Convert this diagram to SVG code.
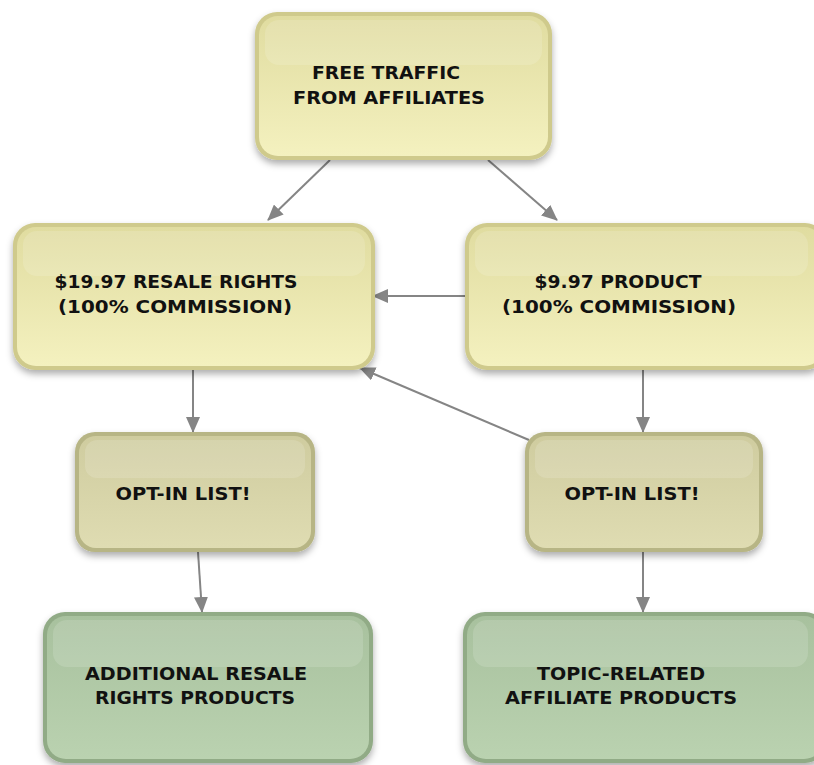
<svg xmlns="http://www.w3.org/2000/svg" width="814" height="765" viewBox="0 0 814 765">
<style>
  .t { font-family: "DejaVu Sans", "Liberation Sans", sans-serif; font-weight: bold; font-size: 17px; fill: #111; text-anchor: middle; }
  .edge { stroke: #858585; stroke-width: 2; fill: none; marker-end: url(#ah); }
  .hl { fill: #ffffff; opacity: 0.14; }
</style>
<defs>
  <marker id="ah" viewBox="0 0 16 14" refX="15" refY="7" markerWidth="16" markerHeight="14" markerUnits="userSpaceOnUse" orient="auto">
    <path d="M0,0 L16,7 L0,14 z" fill="#858585"/>
  </marker>
  <linearGradient id="gy" x1="0" y1="0" x2="0" y2="1">
    <stop offset="0" stop-color="#e0dca0"/>
    <stop offset="1" stop-color="#f4f1bf"/>
  </linearGradient>
  <linearGradient id="go" x1="0" y1="0" x2="0" y2="1">
    <stop offset="0" stop-color="#cfcc9f"/>
    <stop offset="1" stop-color="#dfdcb2"/>
  </linearGradient>
  <linearGradient id="gg" x1="0" y1="0" x2="0" y2="1">
    <stop offset="0" stop-color="#a8c19e"/>
    <stop offset="1" stop-color="#bad2b0"/>
  </linearGradient>
  <filter id="sh" x="-10%" y="-10%" width="120%" height="130%">
    <feDropShadow dx="0" dy="4" stdDeviation="3.5" flood-color="#000" flood-opacity="0.32"/>
  </filter>
</defs>

<g id="connectors">
  <line class="edge" x1="330" y1="160" x2="268" y2="220"/>
  <line class="edge" x1="488" y1="160" x2="557" y2="220"/>
  <line class="edge" x1="465" y1="296" x2="373" y2="296"/>
  <line class="edge" x1="529" y1="440" x2="360" y2="368"/>
  <line class="edge" x1="193" y1="370" x2="193" y2="432"/>
  <line class="edge" x1="643" y1="370" x2="643" y2="432"/>
  <line class="edge" x1="198" y1="552" x2="202" y2="612"/>
  <line class="edge" x1="643" y1="552" x2="643" y2="612"/>
</g>

<g id="n-free-traffic">
  <rect x="255" y="12" width="297" height="148" rx="22" fill="#cfca8c" filter="url(#sh)"/>
  <rect x="259" y="16" width="289" height="140" rx="19" fill="url(#gy)"/>
  <rect x="265" y="20" width="277" height="45" rx="14" class="hl"/>
  <text class="t" x="386" y="79" textLength="148" lengthAdjust="spacingAndGlyphs">FREE TRAFFIC</text>
  <text class="t" x="389" y="104" textLength="192" lengthAdjust="spacingAndGlyphs">FROM AFFILIATES</text>
</g>

<g id="n-resale-rights">
  <rect x="13" y="223" width="362" height="147" rx="22" fill="#cfca8c" filter="url(#sh)"/>
  <rect x="17" y="227" width="354" height="139" rx="19" fill="url(#gy)"/>
  <rect x="23" y="231" width="342" height="45" rx="14" class="hl"/>
  <text class="t" x="176" y="288" textLength="243" lengthAdjust="spacingAndGlyphs">$19.97 RESALE RIGHTS</text>
  <text class="t" x="175" y="313" textLength="234" lengthAdjust="spacingAndGlyphs">(100% COMMISSION)</text>
</g>

<g id="n-product">
  <rect x="465" y="223" width="362" height="147" rx="22" fill="#cfca8c" filter="url(#sh)"/>
  <rect x="469" y="227" width="354" height="139" rx="19" fill="url(#gy)"/>
  <rect x="475" y="231" width="333" height="45" rx="14" class="hl"/>
  <text class="t" x="618" y="288" textLength="167" lengthAdjust="spacingAndGlyphs">$9.97 PRODUCT</text>
  <text class="t" x="619" y="313" textLength="234" lengthAdjust="spacingAndGlyphs">(100% COMMISSION)</text>
</g>

<g id="n-optin-left">
  <rect x="75" y="432" width="240" height="120" rx="20" fill="#b7b585" filter="url(#sh)"/>
  <rect x="79" y="436" width="232" height="112" rx="17" fill="url(#go)"/>
  <rect x="85" y="440" width="220" height="38" rx="12" class="hl"/>
  <text class="t" x="183" y="500" textLength="135" lengthAdjust="spacingAndGlyphs">OPT-IN LIST!</text>
</g>

<g id="n-optin-right">
  <rect x="525" y="432" width="238" height="120" rx="20" fill="#b7b585" filter="url(#sh)"/>
  <rect x="529" y="436" width="230" height="112" rx="17" fill="url(#go)"/>
  <rect x="535" y="440" width="218" height="38" rx="12" class="hl"/>
  <text class="t" x="632" y="500" textLength="135" lengthAdjust="spacingAndGlyphs">OPT-IN LIST!</text>
</g>

<g id="n-additional-resale">
  <rect x="43" y="612" width="330" height="151" rx="22" fill="#91ab86" filter="url(#sh)"/>
  <rect x="47" y="616" width="322" height="143" rx="19" fill="url(#gg)"/>
  <rect x="53" y="620" width="310" height="47" rx="14" class="hl"/>
  <text class="t" x="196" y="680" textLength="222" lengthAdjust="spacingAndGlyphs">ADDITIONAL RESALE</text>
  <text class="t" x="195" y="704" textLength="200" lengthAdjust="spacingAndGlyphs">RIGHTS PRODUCTS</text>
</g>

<g id="n-topic-related">
  <rect x="463" y="612" width="364" height="151" rx="22" fill="#91ab86" filter="url(#sh)"/>
  <rect x="467" y="616" width="356" height="143" rx="19" fill="url(#gg)"/>
  <rect x="473" y="620" width="335" height="47" rx="14" class="hl"/>
  <text class="t" x="621" y="680" textLength="168" lengthAdjust="spacingAndGlyphs">TOPIC-RELATED</text>
  <text class="t" x="621" y="704" textLength="232" lengthAdjust="spacingAndGlyphs">AFFILIATE PRODUCTS</text>
</g>
</svg>
